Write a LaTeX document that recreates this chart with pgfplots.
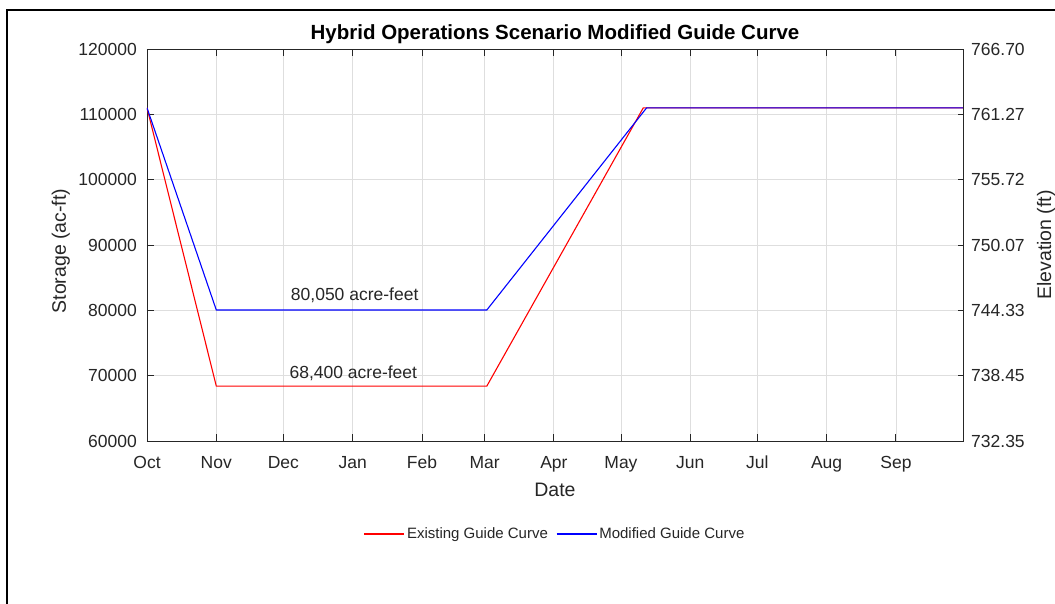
\documentclass[border=0pt]{standalone}
\usepackage{fontspec}
\setmainfont{Liberation Sans}
\usepackage{pgfplots}
\pgfplotsset{compat=1.18}
\definecolor{axgray}{RGB}{38,38,38}
\definecolor{gridgray}{RGB}{222,222,222}
\begin{document}
\begin{tikzpicture}[x=1pt,y=1pt]
% axis box south-west corner sits at the origin; page = reference pixels shifted by (147,163)
\useasboundingbox (-147,-163) rectangle (908,441);
\fill[white] (-147,-163) rectangle (908,441);
\begin{scope}
\clip (-147,-163) rectangle (908,441);
\draw[line width=2.2pt, black] (-140,-180) -- (-140,431) -- (930,431);
\end{scope}
\begin{axis}[
  scale only axis,
  width=816pt, height=392pt,
  xmin=0, xmax=365, ymin=60000, ymax=120000,
  xtick={0,31,61,92,123,151,182,212,243,273,304,335},
  xticklabels={Oct,Nov,Dec,Jan,Feb,Mar,Apr,May,Jun,Jul,Aug,Sep},
  ytick={60000,70000,80000,90000,100000,110000,120000},
  scaled y ticks=false,
  /pgf/number format/fixed, /pgf/number format/1000 sep={},
  /pgf/number format/assume math mode=true,
  xtick pos=both, ytick pos=left,
  tick align=inside, major tick length=7pt,
  grid=major, major grid style={gridgray, line width=0.8pt},
  axis line style={axgray, line width=0.9pt},
  tick style={axgray, line width=0.9pt},
  ticklabel style={font=\fontsize{17.5}{20}\selectfont, text=axgray, inner sep=0pt},
  xticklabel style={anchor=north, text height=12.6pt, yshift=-15pt},
  yticklabel style={anchor=east, xshift=-10pt},
  title={Hybrid Operations Scenario Modified Guide Curve},
  title style={at={(0.5,1)}, anchor=base, yshift=4pt, font=\bfseries\fontsize{20.5}{24}\selectfont, text=black},
  xlabel={Date},
  xlabel style={at={(axis description cs:0.5,0)}, anchor=base, yshift=-56pt, font=\fontsize{19.5}{22}\selectfont, text=axgray},
  ylabel={Storage (ac-ft)},
  ylabel style={at={(axis description cs:0,0.5)}, anchor=base, yshift=81pt, xshift=-6pt, font=\fontsize{19.5}{22}\selectfont, text=axgray},
  legend style={at={(0.5,-0.237)}, anchor=center, draw=none, fill=none,
    legend columns=2, font=\fontsize{15}{18}\selectfont, text=axgray,
    /tikz/every even column/.append style={column sep=6pt},
    nodes={inner sep=2pt}},
  legend cell align=left,
  legend image code/.code={\draw[#1, line width=1.4pt] (0pt,0pt) -- (40pt,0pt);},
]
\addplot[color=red, line width=1.1pt] coordinates {(0,111000) (31,68400) (152,68400) (222,111000) (365,111000)};
\addlegendentry{Existing Guide Curve}
\addplot[color=blue, line width=1.1pt] coordinates {(0,111000) (31,80050) (152,80050) (223.5,111000) (365,111000)};
\addlegendentry{Modified Guide Curve}
\node[anchor=base, inner sep=0pt, font=\fontsize{17.5}{20}\selectfont, text=axgray] at (axis cs:92.9,81580) {80,050 acre-feet};
\node[anchor=base, inner sep=0pt, font=\fontsize{17.5}{20}\selectfont, text=axgray] at (axis cs:92.3,69600) {68,400 acre-feet};
\end{axis}
\begin{axis}[
  scale only axis,
  width=816pt, height=392pt,
  xmin=0, xmax=365, ymin=0, ymax=6,
  axis x line=none, axis y line*=right,
  ytick={0,1,2,3,4,5,6},
  yticklabels={732.35,738.45,744.33,750.07,755.72,761.27,766.70},
  tick align=inside, major tick length=5pt,
  axis line style={axgray, line width=0.9pt, -},
  tick style={axgray, line width=0.9pt},
  yticklabel style={font=\fontsize{17.5}{20}\selectfont, text=axgray, inner sep=0pt, anchor=west, xshift=8pt},
  ylabel={Elevation (ft)},
  ylabel style={at={(axis description cs:1,0.5)}, anchor=base, yshift=-88pt, font=\fontsize{19.5}{22}\selectfont, text=axgray},
]
\addplot[draw=none] coordinates {(0,0)};
\end{axis}
\end{tikzpicture}
\end{document}
